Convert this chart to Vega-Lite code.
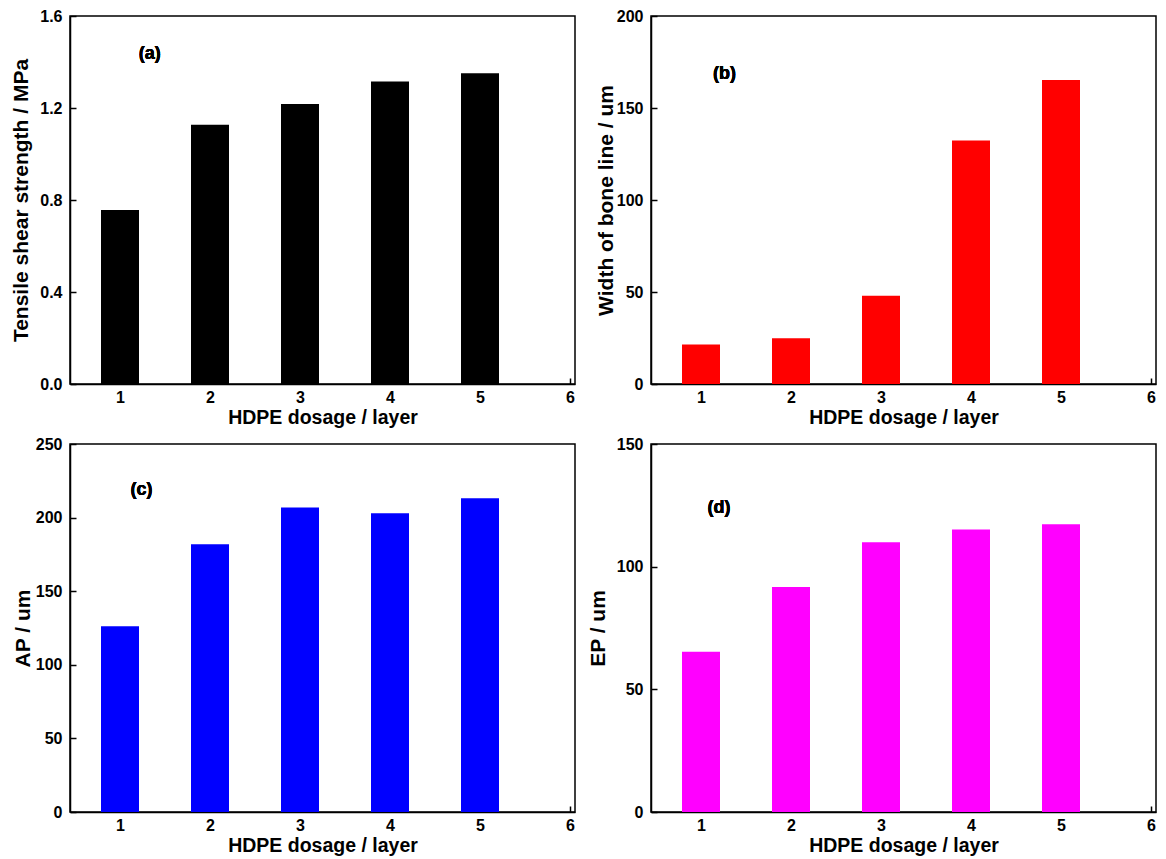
{
  "$schema": "https://vega.github.io/schema/vega-lite/v6.json",
  "background": "white",
  "padding": {"left": 10, "top": 7, "right": 5, "bottom": 0},
  "columns": 2,
  "spacing": {"column": 10, "row": 7},
  "datasets": {
    "d": [
      {"layer": 1, "strength": 0.757, "bone": 21.4, "ap": 126.2, "ep": 65.3},
      {"layer": 2, "strength": 1.127, "bone": 24.8, "ap": 181.9, "ep": 91.7},
      {"layer": 3, "strength": 1.217, "bone": 48.0, "ap": 206.8, "ep": 110.0},
      {"layer": 4, "strength": 1.315, "bone": 132.3, "ap": 202.9, "ep": 115.1},
      {"layer": 5, "strength": 1.351, "bone": 165.2, "ap": 213.1, "ep": 117.3}
    ]
  },
  "config": {
    "font": "Liberation Sans",
    "view": {"stroke": "black", "strokeWidth": 1.5},
    "axis": {
      "grid": false,
      "domainColor": "black",
      "domainWidth": 1.5,
      "tickColor": "black",
      "tickWidth": 1.5,
      "tickSize": -6,
      "labelFont": "Liberation Sans",
      "labelFontWeight": "bold",
      "labelFontSize": 16,
      "labelColor": "black",
      "titleFont": "Liberation Sans",
      "titleFontWeight": "bold",
      "titleColor": "black"
    },
    "axisX": {"labelPadding": 11, "titlePadding": 3, "titleFontSize": 19.5},
    "axisY": {"labelPadding": 14, "titlePadding": 2, "titleFontSize": 21}
  },
  "concat": [
    {
      "width": 505, "height": 368,
      "data": {"name": "d"},
      "layer": [
        {
          "mark": {"type": "bar", "width": 38, "orient": "vertical", "color": "#000000"},
          "encoding": {
            "x": {"field": "layer", "type": "quantitative", "scale": {"domain": [0.5, 6], "nice": false, "zero": false},
                  "axis": {"values": [1, 2, 3, 4, 5, 6], "title": "HDPE dosage / layer", "format": "d"}},
            "y": {"field": "strength", "type": "quantitative", "scale": {"domain": [0, 1.6], "nice": false},
                  "axis": {"values": [0, 0.4, 0.8, 1.2, 1.6], "format": ".1f", "title": "Tensile shear strength / MPa", "titlePadding": 8}}
          }
        },
        {
          "mark": {"type": "text", "text": "(a)", "fontSize": 18, "fontWeight": "bold", "color": "black"},
          "encoding": {"x": {"datum": 1.33, "type": "quantitative"}, "y": {"datum": 1.435, "type": "quantitative"}}
        }
      ]
    },
    {
      "width": 505, "height": 368,
      "data": {"name": "d"},
      "layer": [
        {
          "mark": {"type": "bar", "width": 38, "orient": "vertical", "color": "#ff0000"},
          "encoding": {
            "x": {"field": "layer", "type": "quantitative", "scale": {"domain": [0.5, 6], "nice": false, "zero": false},
                  "axis": {"values": [1, 2, 3, 4, 5, 6], "title": "HDPE dosage / layer", "format": "d"}},
            "y": {"field": "bone", "type": "quantitative", "scale": {"domain": [0, 200], "nice": false},
                  "axis": {"values": [0, 50, 100, 150, 200], "title": "Width of bone line / um", "titlePadding": 0}}
          }
        },
        {
          "mark": {"type": "text", "text": "(b)", "fontSize": 18, "fontWeight": "bold", "color": "black"},
          "encoding": {"x": {"datum": 1.26, "type": "quantitative"}, "y": {"datum": 168.5, "type": "quantitative"}}
        }
      ]
    },
    {
      "width": 505, "height": 368,
      "data": {"name": "d"},
      "layer": [
        {
          "mark": {"type": "bar", "width": 38, "orient": "vertical", "color": "#0000ff"},
          "encoding": {
            "x": {"field": "layer", "type": "quantitative", "scale": {"domain": [0.5, 6], "nice": false, "zero": false},
                  "axis": {"values": [1, 2, 3, 4, 5, 6], "title": "HDPE dosage / layer", "format": "d"}},
            "y": {"field": "ap", "type": "quantitative", "scale": {"domain": [0, 250], "nice": false},
                  "axis": {"values": [0, 50, 100, 150, 200, 250], "title": "AP / um"}}
          }
        },
        {
          "mark": {"type": "text", "text": "(c)", "fontSize": 18, "fontWeight": "bold", "color": "black"},
          "encoding": {"x": {"datum": 1.24, "type": "quantitative"}, "y": {"datum": 218.8, "type": "quantitative"}}
        }
      ]
    },
    {
      "width": 505, "height": 368,
      "data": {"name": "d"},
      "layer": [
        {
          "mark": {"type": "bar", "width": 38, "orient": "vertical", "color": "#ff00ff"},
          "encoding": {
            "x": {"field": "layer", "type": "quantitative", "scale": {"domain": [0.5, 6], "nice": false, "zero": false},
                  "axis": {"values": [1, 2, 3, 4, 5, 6], "title": "HDPE dosage / layer", "format": "d"}},
            "y": {"field": "ep", "type": "quantitative", "scale": {"domain": [0, 150], "nice": false},
                  "axis": {"values": [0, 50, 100, 150], "title": "EP / um", "titlePadding": 8}}
          }
        },
        {
          "mark": {"type": "text", "text": "(d)", "fontSize": 18, "fontWeight": "bold", "color": "black"},
          "encoding": {"x": {"datum": 1.20, "type": "quantitative"}, "y": {"datum": 124, "type": "quantitative"}}
        }
      ]
    }
  ]
}
